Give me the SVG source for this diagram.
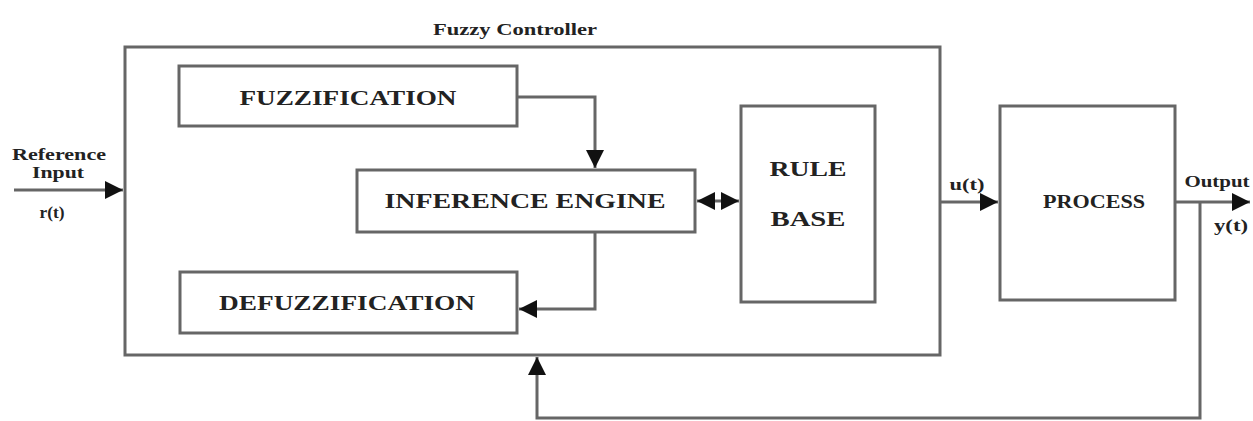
<svg xmlns="http://www.w3.org/2000/svg" width="1253" height="421" viewBox="0 0 1253 421">
<style>
.box{fill:#fff;stroke:#666;stroke-width:3}
.ln{fill:none;stroke:#666;stroke-width:3}
text{font-family:"Liberation Serif","Times New Roman",serif;font-weight:bold;fill:#222;text-anchor:middle}
.big{font-size:22px}
.mid{font-size:19px}
.sm{font-size:16px}
</style>
<defs>
<marker id="ah" viewBox="0 0 10 10" refX="10" refY="5" markerWidth="6" markerHeight="6" markerUnits="strokeWidth" orient="auto-start-reverse">
<path d="M0,0 L10,5 L0,10 z" fill="#111"/>
</marker>
</defs>
<rect width="1253" height="421" fill="#fff"/>
<g id="controller">
<rect class="box" x="125" y="47" width="815" height="308"/>
<text class="sm" x="515" y="35" textLength="164" lengthAdjust="spacingAndGlyphs">Fuzzy Controller</text>
</g>
<g id="fuzzification">
<rect class="box" x="179" y="66" width="338" height="60"/>
<text class="big" x="348" y="105" textLength="217" lengthAdjust="spacingAndGlyphs">FUZZIFICATION</text>
</g>
<g id="inference">
<rect class="box" x="357" y="170" width="338" height="62"/>
<text class="big" x="525" y="208" textLength="281" lengthAdjust="spacingAndGlyphs">INFERENCE ENGINE</text>
</g>
<g id="defuzzification">
<rect class="box" x="180" y="272" width="337" height="61"/>
<text class="big" x="347" y="310" textLength="256" lengthAdjust="spacingAndGlyphs">DEFUZZIFICATION</text>
</g>
<g id="rulebase">
<rect class="box" x="741" y="106" width="134" height="196"/>
<text class="big" x="808" y="176" textLength="77" lengthAdjust="spacingAndGlyphs">RULE</text>
<text class="big" x="808" y="226" textLength="75" lengthAdjust="spacingAndGlyphs">BASE</text>
</g>
<g id="process">
<rect class="box" x="1000" y="106" width="175" height="194"/>
<text class="mid" x="1094" y="208" textLength="102" lengthAdjust="spacingAndGlyphs">PROCESS</text>
</g>
<g id="labels">
<text class="sm" x="59" y="160" textLength="94" lengthAdjust="spacingAndGlyphs">Reference</text>
<text class="sm" x="58" y="178" textLength="52" lengthAdjust="spacingAndGlyphs">Input</text>
<text class="sm" x="52" y="218" textLength="25" lengthAdjust="spacingAndGlyphs">r(t)</text>
<text class="sm" x="967" y="190" textLength="35" lengthAdjust="spacingAndGlyphs">u(t)</text>
<text class="sm" x="1217" y="187" textLength="65" lengthAdjust="spacingAndGlyphs">Output</text>
<text class="sm" x="1231" y="231" textLength="34" lengthAdjust="spacingAndGlyphs">y(t)</text>
</g>
<g id="connectors">
<path class="ln" d="M517,97 H595 V168" marker-end="url(#ah)"/>
<path class="ln" d="M595,232 V309 H519" marker-end="url(#ah)"/>
<path class="ln" d="M697,201 H739" marker-start="url(#ah)" marker-end="url(#ah)"/>
<path class="ln" d="M14,190 H123" marker-end="url(#ah)"/>
<path class="ln" d="M940,202 H998" marker-end="url(#ah)"/>
<path class="ln" d="M1175,202 H1250" marker-end="url(#ah)"/>
<path class="ln" d="M1200,202 V418 H537 V357" marker-end="url(#ah)"/>
</g>
</svg>
